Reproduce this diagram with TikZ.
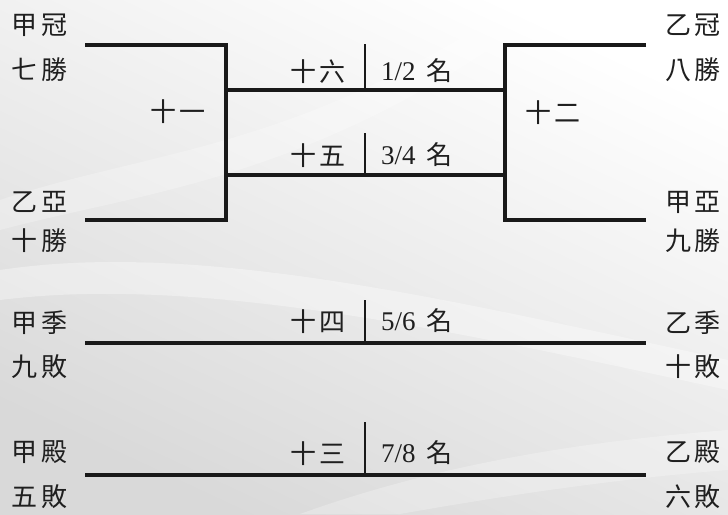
\documentclass[tikz,border=0pt]{standalone}
\usepackage{fontspec}
\setmainfont{Liberation Serif}
\newfontfamily\cjk{Noto Sans CJK TC}
\newcommand\pair[2]{#1\hspace{4pt}#2}
\begin{document}
\begin{tikzpicture}[x=1pt,y=-1pt,
  lab/.style={font=\cjk\fontsize{26}{26}\selectfont, inner sep=0pt, text=black!88},
  rank/.style={font=\fontsize{27}{27}\selectfont, inner sep=0pt, anchor=west, text=black!88},
  bar/.style={line width=3.2pt, line join=miter, black!90},
  divider/.style={line width=1.8pt, black!90}]
% background
\shade[top color=white, bottom color=black!15, shading angle=-25]
  (0,0) rectangle (728,514);
\fill[white, opacity=0.35] (0,270) .. controls (200,240) and (450,300) .. (728,360)
  -- (728,390) .. controls (450,330) and (200,275) .. (0,300) -- cycle;
\fill[white, opacity=0.25] (0,200) .. controls (150,150) and (300,150) .. (520,0)
  -- (560,0) .. controls (320,180) and (150,190) .. (0,230) -- cycle;
\fill[white, opacity=0.25] (300,514) .. controls (450,460) and (600,440) .. (728,430)
  -- (728,470) .. controls (600,480) and (480,500) .. (400,514) -- cycle;
\useasboundingbox (0,0) rectangle (728,514);

% bracket corner coordinates
\coordinate (L1) at (85,45);  \coordinate (L2) at (85,220);
\coordinate (LV) at (226,45);
\coordinate (R1) at (646,45); \coordinate (R2) at (646,220);
\coordinate (RV) at (505,45);
\coordinate (M1a) at (226,90);  \coordinate (M1b) at (505,90);
\coordinate (M2a) at (226,175); \coordinate (M2b) at (505,175);
\coordinate (B1a) at (85,343);  \coordinate (B1b) at (646,343);
\coordinate (B2a) at (85,475);  \coordinate (B2b) at (646,475);
\coordinate (D1t) at (365,44);  \coordinate (D1b) at (365,90);
\coordinate (D2t) at (365,133); \coordinate (D2b) at (365,175);
\coordinate (D3t) at (365,300); \coordinate (D3b) at (365,343);
\coordinate (D4t) at (365,422); \coordinate (D4b) at (365,475);

\draw[bar] (L1) -| (L2 -| LV) -- (L2);
\draw[bar] (R1) -| (R2 -| RV) -- (R2);
\draw[bar] (M1a) -- (M1b);
\draw[bar] (M2a) -- (M2b);
\draw[bar] (B1a) -- (B1b);
\draw[bar] (B2a) -- (B2b);
\draw[divider] (D1t) -- (D1b);
\draw[divider] (D2t) -- (D2b);
\draw[divider] (D3t) -- (D3b);
\draw[divider] (D4t) -- (D4b);

% left team labels
\node[lab] (l1) at (40,25)  {\pair{甲}{冠}};
\node[lab] (l2) at (40,70)  {\pair{七}{勝}};
\node[lab] (l3) at (40,202) {\pair{乙}{亞}};
\node[lab] (l4) at (40,241) {\pair{十}{勝}};
\node[lab] (l5) at (40,323) {\pair{甲}{季}};
\node[lab] (l6) at (40,367) {\pair{九}{敗}};
\node[lab] (l7) at (40,452) {\pair{甲}{殿}};
\node[lab] (l8) at (40,497) {\pair{五}{敗}};
% right team labels
\node[lab] (r1) at (693,25)  {\pair{乙}{冠}};
\node[lab] (r2) at (693,70)  {\pair{八}{勝}};
\node[lab] (r3) at (693,202) {\pair{甲}{亞}};
\node[lab] (r4) at (693,241) {\pair{九}{勝}};
\node[lab] (r5) at (693,323) {\pair{乙}{季}};
\node[lab] (r6) at (693,367) {\pair{十}{敗}};
\node[lab] (r7) at (693,452) {\pair{乙}{殿}};
\node[lab] (r8) at (693,497) {\pair{六}{敗}};

% game numbers
\node[lab] (g11) at (178,112) {\pair{十}{一}};
\node[lab] (g12) at (553,113) {\pair{十}{二}};
\node[lab] (g16) at (318,72)  {\pair{十}{六}};
\node[lab] (g15) at (318,156) {\pair{十}{五}};
\node[lab] (g14) at (318,322) {\pair{十}{四}};
\node[lab] (g13) at (318,454) {\pair{十}{三}};

% ranks
\node[rank] (p12) at (381,71)  {1/2\hspace{11pt}{\cjk\fontsize{26}{26}\selectfont 名}};
\node[rank] (p34) at (381,155) {3/4\hspace{11pt}{\cjk\fontsize{26}{26}\selectfont 名}};
\node[rank] (p56) at (381,321) {5/6\hspace{11pt}{\cjk\fontsize{26}{26}\selectfont 名}};
\node[rank] (p78) at (381,453) {7/8\hspace{11pt}{\cjk\fontsize{26}{26}\selectfont 名}};
\end{tikzpicture}
\end{document}
